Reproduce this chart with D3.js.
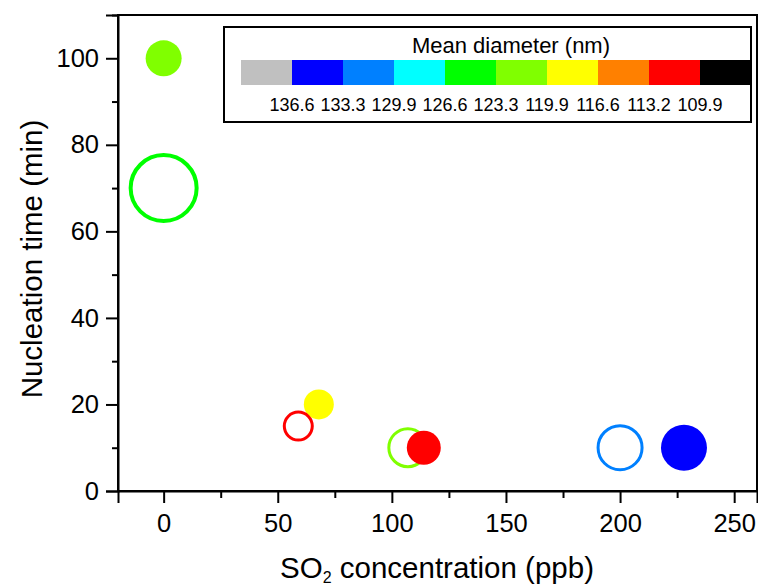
<!DOCTYPE html>
<html>
<head>
<meta charset="utf-8">
<script src="https://cdn.jsdelivr.net/npm/d3@7"></script>
<style>
  html, body { margin: 0; padding: 0; background: #fff; }
  svg { display: block; font-family: "Liberation Sans", Arial, sans-serif; }
</style>
</head>
<body>
<svg id="chart" width="758" height="588"></svg>
<script>
// ---- data ----
const so2 = [0, 0, 68, 59, 107, 114, 200, 228];            // SO2 concentration (ppb)
const nucTime = [100, 70, 20, 15, 10, 10, 10, 10];          // nucleation time (min)
const meanDiam = [121.6, 125.0, 118.2, 111.5, 121.6, 111.5, 131.6, 135.0]; // mean diameter (nm)
const bubbleSize = [18, 33, 15, 14, 19, 17, 22, 23];        // relative bubble size
const filled = [true, false, true, false, false, true, false, true];

const legendBreaks = [136.6, 133.3, 129.9, 126.6, 123.3, 119.9, 116.6, 113.2, 109.9];
const legendColors = ["#c0c0c0", "#0000ff", "#0080ff", "#00ffff", "#00ff00",
                      "#80ff00", "#ffff00", "#ff8000", "#ff0000", "#000000"];
const xTicks = [0, 50, 100, 150, 200, 250];
const xMinor = [25, 75, 125, 175, 225];
const yTicks = [0, 20, 40, 60, 80, 100];
const yMinor = [10, 30, 50, 70, 90, 110];

// ---- layout ----
const svg = d3.select("#chart");
const mLeft = 118, mRight = 757, mTop = 15, mBottom = 491;

const x = d3.scaleLinear().domain([-20, 260]).range([mLeft, mRight]);
const y = d3.scaleLinear().domain([0, 110]).range([mBottom, mTop]);
const r = d3.scaleLinear().domain([0, 1]).range([0, 1]);

// color: diameter -> legend color (descending breaks)
const ascBreaks = legendBreaks.slice().reverse();           // 109.9 ... 136.6
const color = d3.scaleThreshold().domain(ascBreaks).range(legendColors.slice().reverse());

// frame
svg.append("rect").attr("x", mLeft).attr("y", mTop)
  .attr("width", mRight - mLeft).attr("height", mBottom - mTop)
  .attr("fill", "none").attr("stroke", "#000").attr("stroke-width", 2);

// x axis
svg.append("g").attr("transform", `translate(0,${mBottom})`)
  .call(d3.axisBottom(x).tickValues(xTicks).tickSize(12).tickPadding(11).tickFormat(d3.format("d")));
svg.append("g").attr("transform", `translate(0,${mBottom})`)
  .call(d3.axisBottom(x).tickValues(xMinor).tickSize(7).tickFormat(""))
  .call(g => g.select(".domain").remove());

// y axis
svg.append("g").attr("transform", `translate(${mLeft},0)`)
  .call(d3.axisLeft(y).tickValues(yTicks).tickSize(12).tickPadding(7).tickFormat(d3.format("d")));
svg.append("g").attr("transform", `translate(${mLeft},0)`)
  .call(d3.axisLeft(y).tickValues(yMinor).tickSize(6).tickFormat(""))
  .call(g => g.select(".domain").remove());

svg.selectAll(".domain").attr("stroke-width", 2);
svg.selectAll(".tick line").attr("stroke-width", 2);
svg.selectAll(".tick text").attr("font-size", 25.5).attr("font-family", "Liberation Sans, Arial, sans-serif").attr("fill", "#000");

// axis titles
const xt = svg.append("text").attr("x", 437).attr("y", 578)
  .attr("text-anchor", "middle").attr("font-size", 29.5);
xt.append("tspan").text("SO");
xt.append("tspan").attr("font-size", 16).attr("dy", 5).text("2");
xt.append("tspan").attr("dy", -5).text(" concentration (ppb)");

svg.append("text")
  .attr("transform", `translate(42,259) rotate(-90)`)
  .attr("text-anchor", "middle").attr("font-size", 29.5)
  .text("Nucleation time (min)");

// bubbles
const pts = so2.map((v, i) => ({ x: v, y: nucTime[i], d: meanDiam[i], s: bubbleSize[i], f: filled[i] }));
svg.append("g").selectAll("circle").data(pts).join("circle")
  .attr("cx", d => x(d.x)).attr("cy", d => y(d.y))
  .attr("r", d => r(d.s))
  .attr("fill", d => d.f ? color(d.d) : "none")
  .attr("stroke", d => d.f ? "none" : color(d.d))
  .attr("stroke-width", d => d.s > 30 ? 4 : 3);

// legend
const lg = svg.append("g");
lg.append("rect").attr("x", 224).attr("y", 27).attr("width", 527).attr("height", 95)
  .attr("fill", "#fff").attr("stroke", "#000").attr("stroke-width", 2);
lg.append("text").attr("x", 511).attr("y", 53).attr("text-anchor", "middle")
  .attr("font-size", 22).text("Mean diameter (nm)");
const lx = d3.scaleBand().domain(d3.range(legendColors.length)).range([241, 751]).padding(0);
lg.selectAll("rect.sw").data(legendColors).join("rect").attr("class", "sw")
  .attr("x", (d, i) => lx(i)).attr("y", 60).attr("width", lx.bandwidth() + 0.5).attr("height", 25)
  .attr("fill", d => d);
lg.selectAll("text.lb").data(legendBreaks).join("text").attr("class", "lb")
  .attr("x", (d, i) => lx(i + 1)).attr("y", 111).attr("text-anchor", "middle")
  .attr("font-size", 18).text(d => d3.format(".1f")(d));
</script>
</body>
</html>
